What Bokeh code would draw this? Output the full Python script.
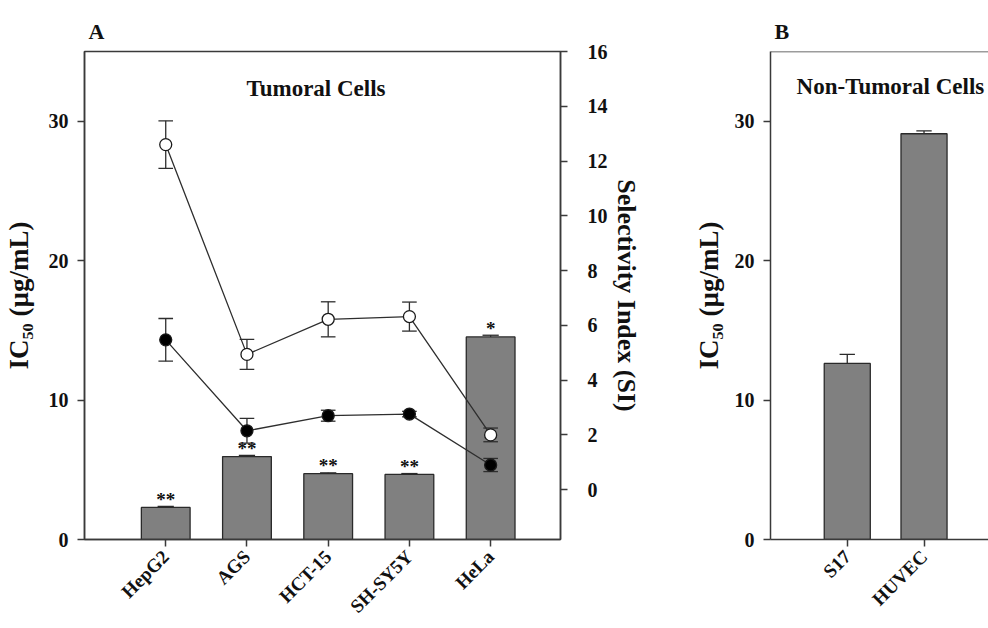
from math import pi
import numpy as np
from bokeh.plotting import figure
from bokeh.models import Range1d, LinearAxis, FixedTicker, Label, Span, Title
from bokeh.layouts import row
from bokeh.core.properties import value
from bokeh.embed import file_html
from bokeh.resources import INLINE

# ---------------- data ----------------
cells_a = ["HepG2", "AGS", "HCT-15", "SH-SY5Y", "HeLa"]
ic50_a = [2.30, 5.95, 4.72, 4.67, 14.53]
ic50_a_err = [0.08, 0.08, 0.06, 0.06, 0.12]
si_open = [12.60, 4.94, 6.22, 6.32, 2.00]
si_open_err = [0.87, 0.55, 0.64, 0.53, 0.25]
si_filled = [5.47, 2.15, 2.70, 2.76, 0.90]
si_filled_err = [0.78, 0.45, 0.20, 0.10, 0.24]
sig_a = ["**", "**", "**", "**", "*"]

cells_b = ["S17", "HUVEC"]
ic50_b = [12.63, 29.10]
ic50_b_err = [0.65, 0.20]

ic_ticks = [0, 10, 20, 30]
si_ticks = [0, 2, 4, 6, 8, 10, 12, 14, 16]

IC_LABEL = "IC\u2085\u2080 (µg/mL)"
SI_LABEL = "Selectivity Index (SI)"

# ---------------- style ----------------
FONT = "Liberation Serif"
AX = "#3a3a3a"
TXT = "#111111"
BAR = "#808080"
BAR_LINE = "#2a2a2a"
LINE = "#2e2e2e"
H = 628


def style_axis(ax, ticks, standoff=9, size="20px"):
    ax.ticker = FixedTicker(ticks=ticks)
    ax.minor_tick_line_color = None
    ax.major_tick_out = 7
    ax.major_tick_in = 0
    ax.axis_line_color = AX
    ax.axis_line_width = 1.5
    ax.major_tick_line_color = AX
    ax.major_tick_line_width = 1.5
    ax.major_label_text_font = FONT
    ax.major_label_text_font_size = size
    ax.major_label_text_font_style = "bold"
    ax.major_label_text_color = TXT
    ax.major_label_standoff = standoff


def axis_title(ax, text, size, standoff):
    ax.axis_label = text
    ax.axis_label_text_font = FONT
    ax.axis_label_text_font_size = size
    ax.axis_label_text_font_style = "bold"
    ax.axis_label_text_color = TXT
    ax.axis_label_standoff = standoff


def panel_letter(p, txt):
    p.add_layout(Title(text=txt, align="left", offset=4, standoff=16, text_font=FONT,
                       text_font_size="22px", text_font_style="bold", text_color=TXT), "above")


# ---------------- panel A ----------------
x_a = np.arange(1, len(cells_a) + 1)
top_a = np.array(ic50_a) + np.array(ic50_a_err)

pA = figure(width=660, height=H, x_range=Range1d(0, 5.86), y_range=Range1d(0, 35),
            output_backend="svg", toolbar_location=None,
            min_border_left=84, min_border_right=100, min_border_top=50, min_border_bottom=89)
pA.extra_y_ranges = {"si": Range1d(-1.82, 16)}
pA.grid.visible = False
pA.outline_line_color = AX
pA.outline_line_width = 1.5

style_axis(pA.yaxis[0], ic_ticks)
axis_title(pA.yaxis[0], IC_LABEL, "27px", 12)
style_axis(pA.xaxis[0], list(x_a), standoff=7, size="19px")
pA.xaxis[0].major_label_overrides = {int(i): c for i, c in zip(x_a, cells_a)}
pA.xaxis[0].major_label_orientation = pi / 4

si_axis = LinearAxis(y_range_name="si")
style_axis(si_axis, si_ticks, standoff=20)
axis_title(si_axis, SI_LABEL, "26px", 1)
pA.add_layout(si_axis, "right")

pA.vbar(x=x_a, top=ic50_a, width=0.6, fill_color=BAR, line_color=BAR_LINE, line_width=1.3)
pA.segment(x0=x_a, y0=ic50_a, x1=x_a, y1=top_a, line_color=BAR_LINE, line_width=1.3)
pA.segment(x0=x_a - 0.1, y0=top_a, x1=x_a + 0.1, y1=top_a, line_color=BAR_LINE, line_width=1.3)
pA.text(x=x_a, y=top_a + 0.5, text=sig_a, text_align="center", text_baseline="middle",
        text_font=value(FONT), text_font_size="19px", text_font_style="bold", text_color=TXT)

for vals, errs, fill in [(si_open, si_open_err, "white"), (si_filled, si_filled_err, "black")]:
    v = np.array(vals)
    e = np.array(errs)
    pA.segment(x0=x_a, y0=v - e, x1=x_a, y1=v + e, line_color=LINE, line_width=1.3, y_range_name="si")
    pA.segment(x0=x_a - 0.09, y0=v + e, x1=x_a + 0.09, y1=v + e, line_color=LINE, line_width=1.3, y_range_name="si")
    pA.segment(x0=x_a - 0.09, y0=v - e, x1=x_a + 0.09, y1=v - e, line_color=LINE, line_width=1.3, y_range_name="si")
    pA.line(x=x_a, y=v, line_color=LINE, line_width=1.3, y_range_name="si")
    pA.scatter(x=x_a, y=v, marker="circle", size=12, fill_color=fill, line_color="#1a1a1a",
               line_width=1.3, y_range_name="si")

pA.add_layout(Label(x=2.85, y=32.35, text="Tumoral Cells", text_align="center", text_baseline="alphabetic",
                    text_font=FONT, text_font_size="23px", text_font_style="bold", text_color=TXT))
panel_letter(pA, "A")

# ---------------- panel B ----------------
x_b = np.arange(1, len(cells_b) + 1)
top_b = np.array(ic50_b) + np.array(ic50_b_err)

pB = figure(width=328, height=H, x_range=Range1d(0, 2.84), y_range=Range1d(0, 35),
            output_backend="svg", toolbar_location=None,
            min_border_left=110, min_border_right=0, min_border_top=51, min_border_bottom=88)
pB.grid.visible = False
pB.outline_line_color = None
style_axis(pB.yaxis[0], ic_ticks)
axis_title(pB.yaxis[0], IC_LABEL, "27px", 8)
style_axis(pB.xaxis[0], list(x_b), standoff=7, size="19px")
pB.xaxis[0].major_label_overrides = {int(i): c for i, c in zip(x_b, cells_b)}
pB.xaxis[0].major_label_orientation = pi / 4
pB.add_layout(Span(location=35, dimension="width", line_color=AX, line_width=1.5))

pB.vbar(x=x_b, top=ic50_b, width=0.6, fill_color=BAR, line_color=BAR_LINE, line_width=1.3)
pB.segment(x0=x_b, y0=ic50_b, x1=x_b, y1=top_b, line_color=BAR_LINE, line_width=1.3)
pB.segment(x0=x_b - 0.1, y0=top_b, x1=x_b + 0.1, y1=top_b, line_color=BAR_LINE, line_width=1.3)

pB.add_layout(Label(x=0.34, y=32.5, text="Non-Tumoral Cells", text_align="left", text_baseline="alphabetic",
                    text_font=FONT, text_font_size="23px", text_font_style="bold", text_color=TXT))
panel_letter(pB, "B")

layout = row(pA, pB)
open("out.html", "w").write(file_html(layout, INLINE))
